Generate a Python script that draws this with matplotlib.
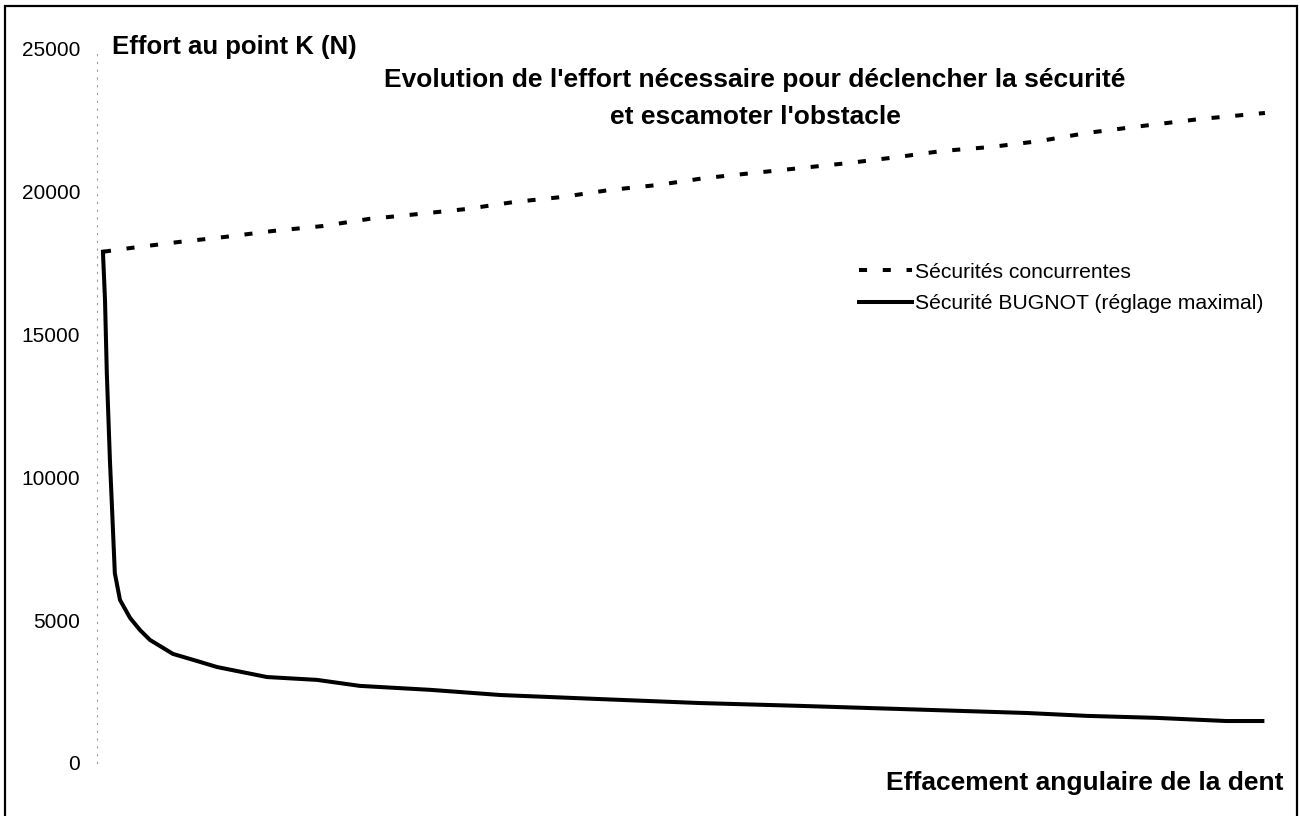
import numpy as np
import matplotlib
matplotlib.use('Agg')
import matplotlib.pyplot as plt
from matplotlib.patches import Rectangle

plt.rcParams['font.family'] = ['Liberation Sans', 'DejaVu Sans']

# angular retraction of the tooth (arbitrary degrees)
angle_bugnot = [0, 0.08, 0.15, 0.27, 0.35, 0.46, 0.66, 1.05, 1.43, 1.82, 2.71,
                3.76, 4.42, 6.35, 8.29, 9.95, 12.7, 15.4, 19.2, 23.1, 27.0,
                30.9, 35.8, 38.1, 40.8, 43.5, 44.9]
effort_bugnot = [17900, 16210, 13650, 10610, 8960, 6650, 5710, 5080, 4660, 4310, 3820,
                 3540, 3360, 3010, 2910, 2700, 2560, 2380, 2240, 2100, 2000,
                 1890, 1750, 1650, 1580, 1470, 1470]

angle_conc = [0, 1.05, 2.91, 4.73, 6.6, 8.5, 10.3, 12.2, 14.1, 15.9, 17.8, 19.6,
              21.5, 23.3, 25.2, 27.0, 28.9, 30.8, 32.5, 34.4, 36.3, 38.1, 40.2,
              42.5, 45.0]
effort_conc = [17900, 18030, 18240, 18420, 18630, 18800, 19050, 19220, 19400, 19640,
               19820, 20060, 20240, 20480, 20660, 20830, 21010, 21220, 21430, 21570,
               21780, 22060, 22300, 22550, 22760]

yticks = [0, 5000, 10000, 15000, 20000, 25000]

fig = plt.figure(figsize=(13, 8.16), dpi=100)
ax = fig.add_axes([97 / 1300, 1 - 763 / 816, (1290 - 97) / 1300, (763 - 49) / 816])

ax.plot(angle_conc, effort_conc, color='black', lw=2.9, dashes=(2, 3.9),
        dash_capstyle='butt', label='Sécurités concurrentes')
ax.plot(angle_bugnot, effort_bugnot, color='black', lw=2.9,
        label='Sécurité BUGNOT (réglage maximal)')

ax.set_xlim(-0.23, 45.97)
ax.set_ylim(0, 25000)
ax.set_yticks(yticks)
ax.set_yticklabels([str(v) for v in yticks], fontsize=15)
ax.tick_params(axis='y', length=0, pad=12)
ax.set_xticks([])
for s in ['top', 'right', 'bottom']:
    ax.spines[s].set_visible(False)
ax.spines['left'].set_linestyle((0, (1, 6)))
ax.spines['left'].set_color('#999999')
ax.spines['left'].set_linewidth(0.8)

fig.text(112 / 1300, 1 - 47 / 816, 'Effort au point K (N)', fontsize=18.5,
         fontweight='bold', va='center', ha='left')
fig.text(755 / 1300, 1 - 80 / 816, "Evolution de l'effort nécessaire pour déclencher la sécurité",
         fontsize=19, fontweight='bold', va='center', ha='center')
fig.text(755 / 1300, 1 - 117 / 816, "et escamoter l'obstacle",
         fontsize=19, fontweight='bold', va='center', ha='center')
fig.text(1283 / 1300, 1 - 783 / 816, 'Effacement angulaire de la dent', fontsize=19,
         fontweight='bold', va='center', ha='right')

ax.legend(loc='upper left', bbox_to_anchor=(848 / 1300, 1 - 252 / 816),
          bbox_transform=fig.transFigure, frameon=False, fontsize=15.2,
          handlelength=2.55, handletextpad=0.12, labelspacing=0.6, borderpad=0)

fig.patches.append(Rectangle((5 / 1300, -0.05), 1292 / 1300, 1.05 - 6 / 816,
                             transform=fig.transFigure, fill=False,
                             edgecolor='black', lw=1.6))

fig.savefig('out.png', dpi=100)
